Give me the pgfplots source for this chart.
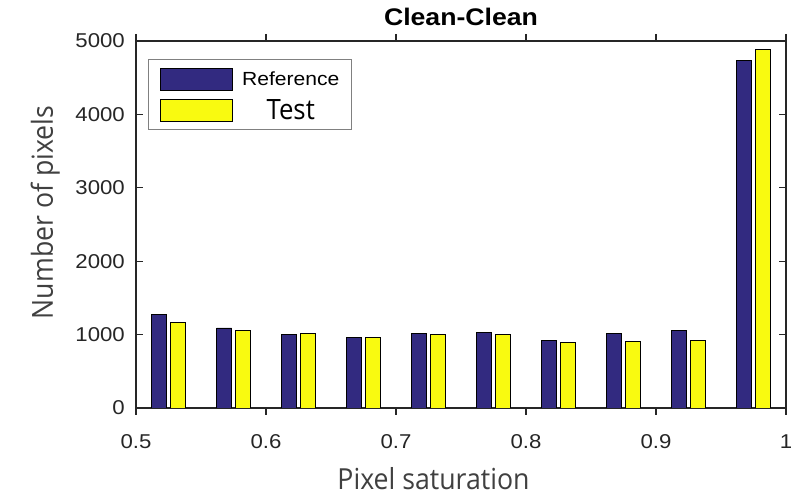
\documentclass[border=0pt]{standalone}
\usepackage{fontspec}
\setmainfont{Liberation Sans}
\newfontfamily\tickfont[FakeStretch=1.11]{Liberation Sans}
\newfontfamily\labelfont[FakeStretch=0.92]{Open Sans}
\usepackage{pgfplots}
\pgfplotsset{compat=1.18}

\definecolor{refblue}{RGB}{50,42,128}
\definecolor{testyellow}{RGB}{249,250,16}
\definecolor{axgray}{RGB}{38,38,38}
\definecolor{labgray}{RGB}{64,64,64}

\pgfplotsset{
  patchlegend/.style={legend image code/.code={
    \draw[##1, line width=0.9pt] (0pt,-11pt) rectangle (72pt,11pt);}},
}

\begin{document}
\begin{tikzpicture}
\useasboundingbox (-136pt,-89pt) rectangle (669pt,408pt);
\begin{axis}[
  scale only axis, width=650pt, height=367pt,
  at={(0,0)}, anchor=south west,
  xmin=0.5, xmax=1, ymin=0, ymax=5000,
  xtick={0.5,0.6,0.7,0.8,0.9,1},
  xticklabels={0.5,0.6,0.7,0.8,0.9,1},
  ytick={0,1000,2000,3000,4000,5000},
  yticklabels={0,1000,2000,3000,4000,5000},
  tick align=inside, tick pos=both, major tick length=7pt,
  axis line style={axgray, line width=1.2pt},
  every tick/.style={axgray, line width=1.2pt},
  ticklabel style={font=\tickfont\fontsize{20}{22}\selectfont, text=axgray, inner sep=0pt},
  xticklabel style={anchor=base, yshift=-33pt},
  yticklabel style={anchor=east, xshift=-11pt},
  title={Clean-Clean},
  title style={font=\tickfont\bfseries\fontsize{24}{26}\selectfont, text=black,
    at={(axis description cs:0.5,1)}, anchor=base, yshift=9pt, inner sep=0pt},
  xlabel={Pixel saturation},
  ylabel={Number of pixels},
  label style={font=\labelfont\fontsize{29}{32}\selectfont, text=labgray, inner sep=0pt},
  xlabel style={at={(axis description cs:0.4577,-0.221)}, anchor=base, text depth=0pt},
  ylabel style={at={(axis description cs:-0.1277,0.533)}, anchor=base},
  ybar, bar width=15pt,
  legend cell align=center,
  legend style={at={(axis description cs:0.018,0.950)}, anchor=north west,
    draw=gray, line width=0.9pt, fill=white,
    inner xsep=12pt, inner ysep=8pt, row sep=8pt, column sep=9pt,
    nodes={inner sep=0pt}},
]
\addplot[fill=refblue, draw=black, line width=0.9pt, bar shift=-9.3pt, patchlegend]
  coordinates {(0.525,1280) (0.575,1090) (0.625,1008) (0.675,963) (0.725,1017)
               (0.775,1031) (0.825,922) (0.875,1021) (0.925,1058) (0.975,4730)};
\addlegendentry{\tickfont\fontsize{19}{21}\selectfont Reference}
\addplot[fill=testyellow, draw=black, line width=0.9pt, bar shift=9.3pt, patchlegend]
  coordinates {(0.525,1162) (0.575,1062) (0.625,1012) (0.675,958) (0.725,1008)
               (0.775,999) (0.825,899) (0.875,908) (0.925,922) (0.975,4880)};
\addlegendentry{\labelfont\fontsize{28}{30}\selectfont Test}
\end{axis}
\end{tikzpicture}
\end{document}
